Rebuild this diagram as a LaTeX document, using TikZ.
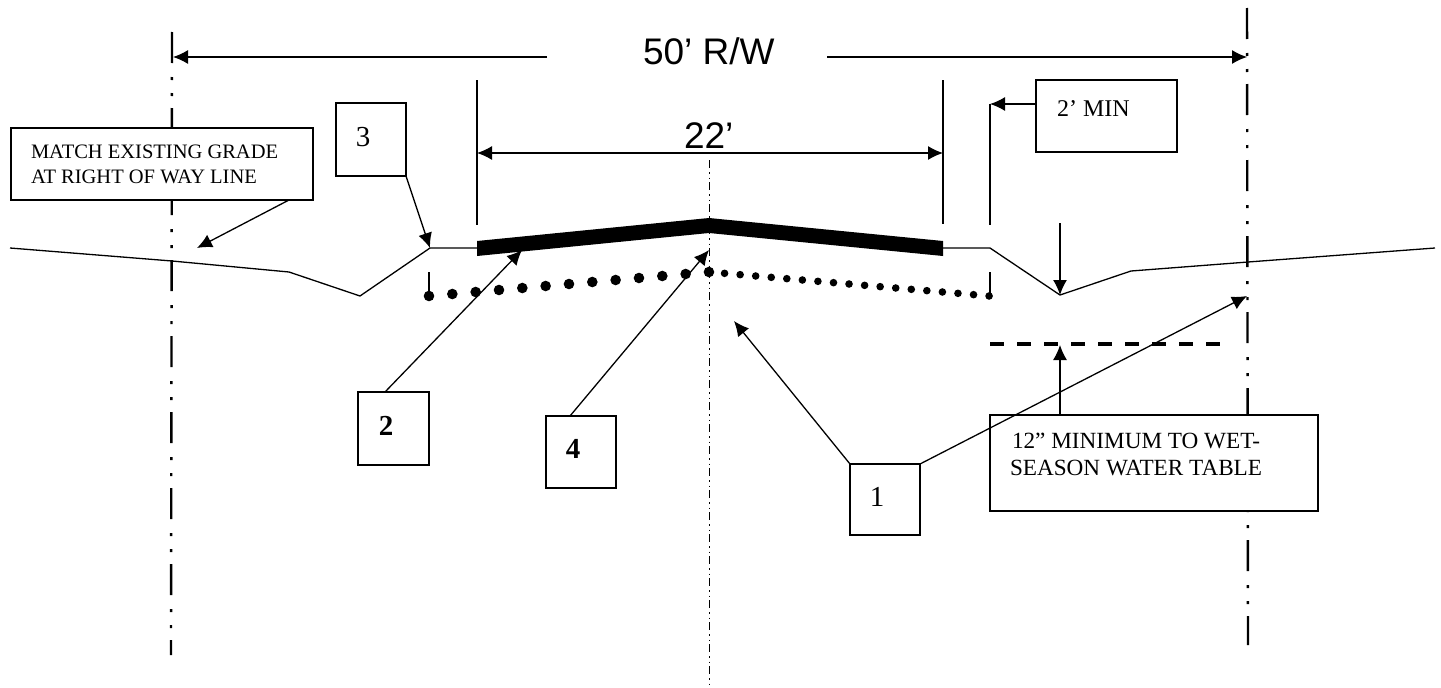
\documentclass[tikz,border=0pt]{standalone}
\usepackage{fontspec}
\setmainfont{Liberation Serif}
\newfontfamily\dimfont{Liberation Sans}
\usetikzlibrary{arrows.meta}
\tikzset{
  every node/.style={inner sep=0pt,outer sep=0pt},
  line/.style={line width=1.3pt,black},
  arr/.style={line width=1.3pt,black,-{Latex[length=15pt,width=14pt]}},
  row/.style={line width=2.4pt,black,dash pattern=on 31pt off 14pt on 3pt off 13pt on 3pt off 12pt},
  center/.style={line width=1pt,black,dash pattern=on 8pt off 4pt on 1.5pt off 4pt on 1.5pt off 3pt},
  box/.style={draw=black,line width=1.3pt,fill=white,anchor=north west},
  boxtext/.style={anchor=base west,font=\fontsize{20.5}{25}\selectfont,align=left},
  numlabel/.style={anchor=base,font=\fontsize{29}{30}\selectfont},
  dimtext/.style={anchor=base,font=\dimfont\fontsize{37}{40}\selectfont},
}
\begin{document}
\begin{tikzpicture}[x=1pt,y=-1pt]
\useasboundingbox[fill=white] (0,0) rectangle (1441,688);

% named free ends
\coordinate (rowLtop) at (172,32);
\coordinate (rowLbot) at (171,655);
\coordinate (rowRtop) at (1247,8);
\coordinate (rowRbot) at (1248,645);
\coordinate (clTop) at (709,160);
\coordinate (clBot) at (709,688);

% right of way and centre lines
\draw[row] (rowLtop) -- (rowLbot);
\draw[row] (rowRtop) -- (rowRbot);
\draw[center] (clTop) -- (clBot);

% ground profile
\coordinate (g1) at (10,248);
\coordinate (g2) at (172,261);
\coordinate (g3) at (289,272);
\coordinate (g4) at (360,296);
\coordinate (g5) at (430,248);
\coordinate (g6) at (477,248);
\coordinate (g7) at (943,248);
\coordinate (g8) at (990,248);
\coordinate (g9) at (1060,295);
\coordinate (g10) at (1131,271);
\coordinate (g11) at (1248,262);
\coordinate (g12) at (1435,248);
\draw[line,line join=round] (g1) -- (g2) -- (g3) -- (g4) -- (g5) -- (g6);
\draw[line,line join=round] (g7) -- (g8) -- (g9) -- (g10) -- (g11) -- (g12);

% pavement
\fill[black] (477,241) -- (709,218) -- (943,241) -- (943,256) -- (709,233) -- (477,256) -- cycle;

% base course dots
\foreach \i in {0,...,12} {
  \fill[black] ({429+\i*23.33},{296-\i*2}) circle (5.3pt);
}
\foreach \i in {1,...,18} {
  \fill[black] ({709+\i*15.56},{272+\i*1.333}) circle (3.8pt);
}
\coordinate (tickLa) at (429,272);
\coordinate (tickLb) at (429,296);
\coordinate (tickRa) at (990,272);
\coordinate (tickRb) at (990,296);
\draw[line] (tickLa) -- (tickLb);
\draw[line] (tickRa) -- (tickRb);

% water table
\coordinate (wtL) at (990,344);
\coordinate (wtR) at (1225,344);
\draw[line width=3.2pt,black,dash pattern=on 14pt off 13pt] (wtL) -- (wtR);

% extension lines
\coordinate (extA1) at (477,80);
\coordinate (extA2) at (477,225);
\coordinate (extB1) at (943,80);
\coordinate (extB2) at (943,224);
\coordinate (extC1) at (990,104);
\coordinate (extC2) at (990,225);
\draw[line] (extA1) -- (extA2);
\draw[line] (extB1) -- (extB2);
\draw[line] (extC1) -- (extC2);

% boxes
\node[box,minimum width=302pt,minimum height=72pt] (boxMatch) at (11,128) {};
\node[box,minimum width=70pt,minimum height=73pt] (box3) at (336,103) {};
\node[box,minimum width=71pt,minimum height=73pt] (box2) at (358,392) {};
\node[box,minimum width=70pt,minimum height=72pt] (box4) at (546,416) {};
\node[box,minimum width=70pt,minimum height=71pt] (box1) at (850,464) {};
\node[box,minimum width=141pt,minimum height=72pt] (boxMin) at (1036,80) {};
\node[box,minimum width=328pt,minimum height=96pt] (boxWater) at (990,415) {};

% texts
\node[boxtext] (tMatchA) at (31,158) {MATCH EXISTING GRADE};
\node[boxtext] (tMatchB) at (31,183) {AT RIGHT OF WAY LINE};
\node[boxtext,font=\fontsize{24}{26}\selectfont] (tMin) at (1057,116) {2’ MIN};
\node[boxtext,font=\fontsize{23.2}{26}\selectfont] (tWaterA) at (1012,448) {12” MINIMUM TO WET-};
\node[boxtext,font=\fontsize{23.2}{26}\selectfont] (tWaterB) at (1010,475) {SEASON WATER TABLE};
\node[numlabel] (n3) at (363,146) {3};
\node[numlabel] (n2) at (386,435) {\bfseries 2};
\node[numlabel] (n4) at (573,458) {\bfseries 4};
\node[numlabel] (n1) at (877,506) {1};
\node[dimtext,anchor=base west] (t50) at (643,64) {50’ R/W};
\node[dimtext,anchor=base west] (t22) at (684,148) {22’};

% dimension arrows
\coordinate (d50La) at (547,57);
\coordinate (d50Lb) at (173,57);
\coordinate (d50Ra) at (827,57);
\coordinate (d50Rb) at (1247,57);
\draw[arr] (d50La) -- (d50Lb);
\draw[arr] (d50Ra) -- (d50Rb);
\coordinate (d22L) at (477,153);
\coordinate (d22R) at (943,153);
\draw[arr,{Latex[length=15pt,width=14pt]}-{Latex[length=15pt,width=14pt]}] (d22L) -- (d22R);
\draw[arr] (boxMin.west |- extC1) -- (extC1);

% leader arrows
\coordinate (mStart) at (289,200);
\coordinate (mTip) at (197,248);
\coordinate (s2) at (385,392);
\coordinate (tip2) at (522,250);
\coordinate (s4) at (570,416);
\coordinate (tip4) at (709,250);
\coordinate (tip1a) at (734,321);
\coordinate (tip1b) at (1247,296);
\coordinate (sMin) at (1060,223);
\coordinate (sWt) at (1060,415);
\coordinate (tipWt) at (1060,345);
\draw[arr] (mStart) -- (mTip);
\draw[arr] (box3.south east) -- (g5);
\draw[arr] (s2) -- (tip2);
\draw[arr] (s4) -- (tip4);
\draw[arr] (box1.north west) -- (tip1a);
\draw[arr] (box1.north east) -- (tip1b);
\draw[arr] (sMin) -- (g9);
\draw[arr] (sWt) -- (tipWt);
\end{tikzpicture}
\end{document}
